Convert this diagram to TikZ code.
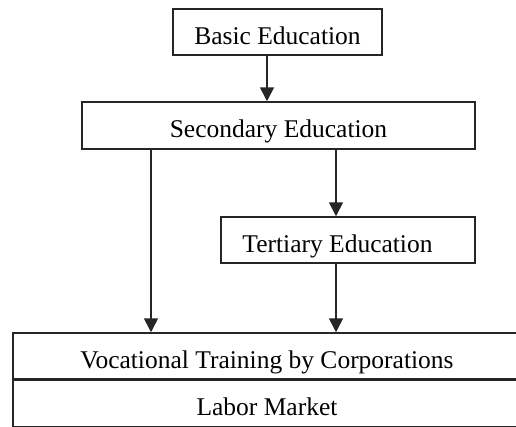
\documentclass[tikz,border=0pt]{standalone}
\usepackage{fontspec}
\setmainfont{Liberation Serif}
\usetikzlibrary{arrows.meta}
\begin{document}
\begin{tikzpicture}[x=1pt,y=-1pt,
  box/.style={draw=black!85,line width=1.5pt,inner sep=0pt,text height=24pt,text depth=0pt,
    font=\fontsize{25.5}{30}\selectfont},
  arr/.style={draw=black!85,line width=1.6pt,-{Triangle[length=14pt,width=14pt]}},
  link/.style={draw=black!85,line width=1.6pt}]
\useasboundingbox (0,0) rectangle (516,426);
\node[box,minimum width=209pt,minimum height=46pt] (basic) at (277.5,32) {Basic Education};
\node[box,minimum width=393pt,minimum height=47pt] (sec) at (278.5,125.5) {Secondary Education};
\node[box,minimum width=254pt,minimum height=46pt] (ter) at (348,240) {Tertiary Education\hspace*{21pt}};
\node[box,minimum width=508pt,minimum height=46pt] (voc) at (267,356) {Vocational Training by Corporations};
\node[box,minimum width=508pt,minimum height=46.5pt,anchor=north] (lab) at (voc.south) {Labor Market};
\coordinate (xa) at (267,0);
\coordinate (xb) at (151,0);
\coordinate (xc) at (336,0);
\draw[arr] (basic.south -| xa) -- (sec.north -| xa);
\draw[arr] (sec.south -| xb) -- (voc.north -| xb);
\draw[arr] (sec.south -| xc) -- (ter.north -| xc);
\draw[arr] (ter.south -| xc) -- (voc.north -| xc);
\end{tikzpicture}
\end{document}
